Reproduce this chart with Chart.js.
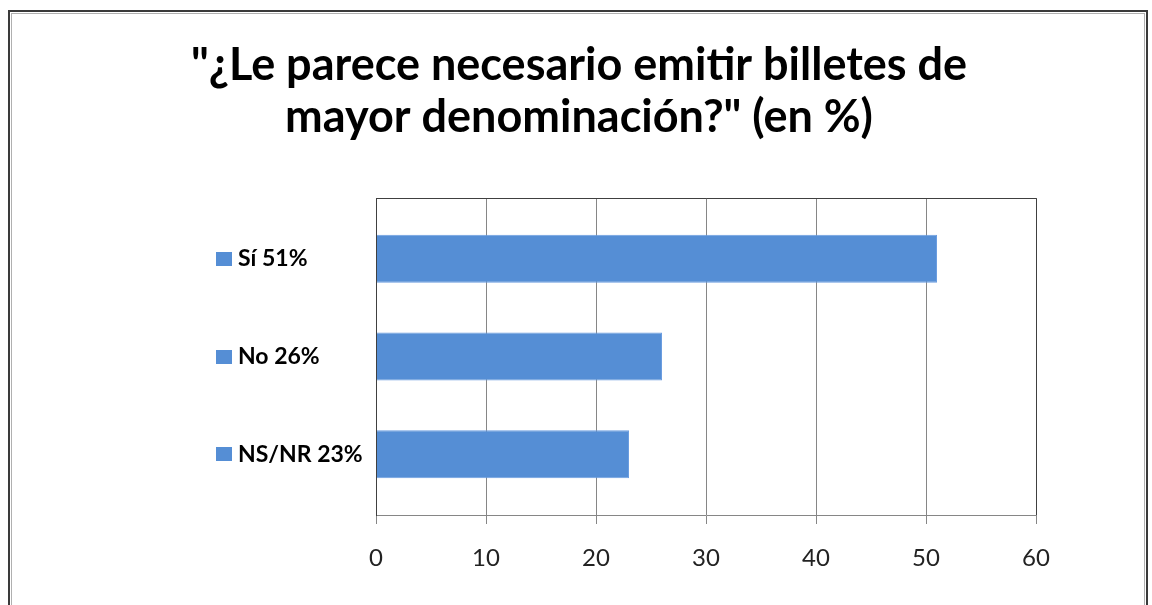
<!DOCTYPE html>
<html>
<head>
<meta charset="utf-8">
<script src="https://cdn.jsdelivr.net/npm/chart.js@4/dist/chart.umd.min.js"></script>
<style>
  html, body { margin: 0; padding: 0; background: #fff; }
  #wrap { width: 1152px; height: 605px; position: relative; }
</style>
</head>
<body>
<div id="wrap"><canvas id="grafico"></canvas></div>
<script>
const titleLines = ['"¿Le parece necesario emitir billetes de', 'mayor denominación?" (en %)'];
const categories = ['Sí 51%', 'No 26%', 'NS/NR 23%'];
const values = [51, 26, 23];
const xTicks = [0, 10, 20, 30, 40, 50, 60];

const barColor = '#558ed5';

// marco exterior, título centrado en todo el lienzo, borde del área de trazado
// y cuadritos de leyenda junto a las etiquetas de categoría
const extras = {
  id: 'extras',
  beforeDraw(chart) {
    const ctx = chart.ctx;
    ctx.save();
    ctx.fillStyle = '#fff';
    ctx.fillRect(0, 0, chart.width, chart.height);
    ctx.strokeStyle = '#3a3a3a';
    ctx.lineWidth = 2;
    ctx.strokeRect(9, 11, 1138, 700);
    ctx.strokeStyle = '#b0b0b0';
    ctx.lineWidth = 1;
    ctx.strokeRect(11.5, 13.5, 1133, 700);

    ctx.fillStyle = '#000';
    ctx.font = 'bold 45px Lato';
    ctx.textAlign = 'center';
    ctx.textBaseline = 'alphabetic';
    ctx.fillText(titleLines[0], 579, 80);
    ctx.fillText(titleLines[1], 579, 132);
    ctx.restore();
  },
  afterDraw(chart) {
    const ctx = chart.ctx;
    const a = chart.chartArea;
    ctx.save();
    ctx.strokeStyle = '#404040';
    ctx.lineWidth = 1;
    ctx.beginPath();
    ctx.moveTo(a.left + 0.5, a.bottom);
    ctx.lineTo(a.left + 0.5, a.top + 0.5);
    ctx.lineTo(a.right + 0.5, a.top + 0.5);
    ctx.lineTo(a.right + 0.5, a.bottom);
    ctx.stroke();

    const yScale = chart.scales.y;
    ctx.fillStyle = barColor;
    categories.forEach((c, i) => {
      const y = yScale.getPixelForValue(i);
      ctx.fillRect(yScale.left - 22, Math.round(y - 7), 16, 14);
    });
    ctx.restore();
  }
};

new Chart(document.getElementById('grafico'), {
  type: 'bar',
  data: {
    datasets: [{
      data: values.map((v, i) => ({ x: v, y: i })),
      backgroundColor: barColor,
      borderColor: '#6b9de0',
      borderWidth: 1,
      barPercentage: 0.49,
      categoryPercentage: 1
    }]
  },
  options: {
    indexAxis: 'y',
    responsive: true,
    maintainAspectRatio: false,
    animation: false,
    layout: { padding: { left: 238, right: 116, top: 198, bottom: 0 } },
    plugins: {
      legend: { display: false },
      tooltip: { enabled: false },
      title: { display: false }
    },
    scales: {
      x: {
        type: 'linear',
        min: 0,
        max: 60,
        afterBuildTicks(scale) {
          scale.ticks = xTicks.map(v => ({ value: v }));
        },
        afterFit(scale) { scale.height = 90; },
        grid: { color: '#868686', tickLength: 9, tickColor: '#868686' },
        border: { color: '#868686' },
        ticks: {
          color: '#222',
          padding: 20,
          font: { family: 'Lato', size: 24 }
        }
      },
      y: {
        type: 'linear',
        reverse: true,
        offset: false,
        // hueco en los extremos como en el gráfico original de Excel
        min: -0.62,
        max: 2.62,
        afterBuildTicks(scale) {
          scale.ticks = categories.map((c, i) => ({ value: i }));
        },
        afterFit(scale) { scale.width = 138; },
        grid: { display: false, offset: false },
        border: { color: '#404040' },
        ticks: {
          crossAlign: 'far',
          color: '#000',
          font: { family: 'Lato', size: 23, weight: 'bold' },
          callback: (v) => categories[v]
        }
      }
    }
  },
  plugins: [extras]
});
</script>
</body>
</html>
